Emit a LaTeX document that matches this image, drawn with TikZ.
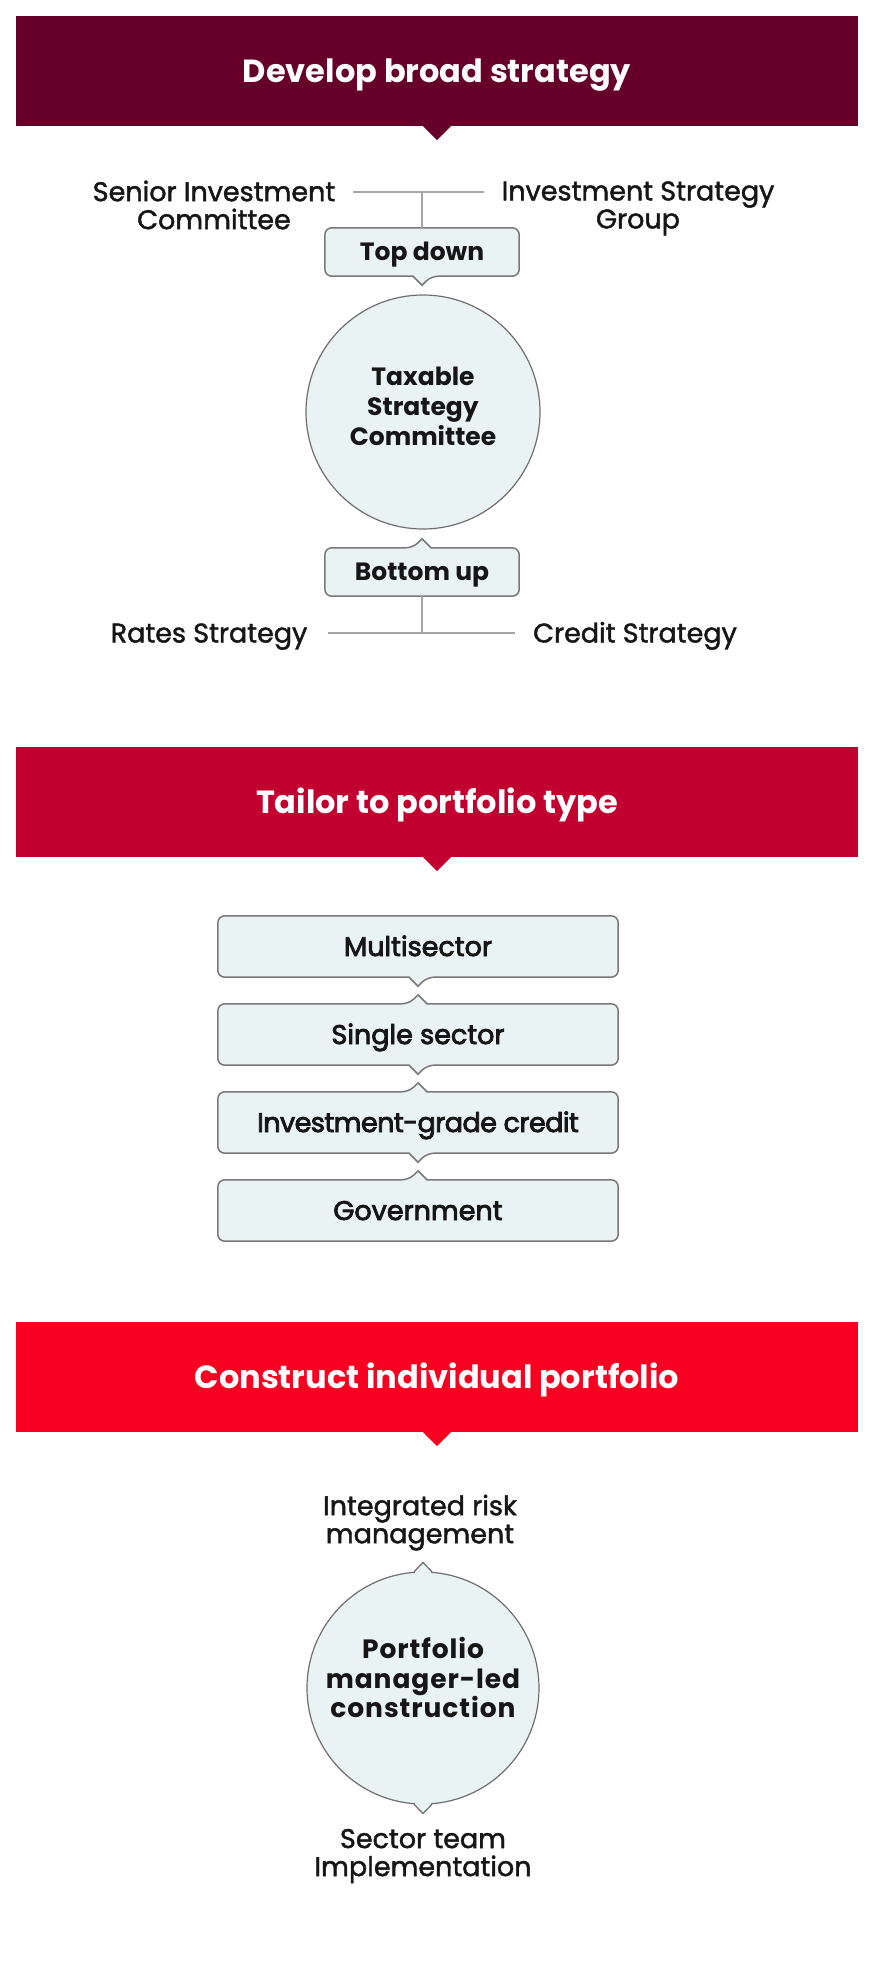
\documentclass[tikz,border=0pt]{standalone}
\usepackage{fontspec}
\setmainfont{Poppins}
\newfontfamily\medfont{Poppins}[FakeBold=1.6]
\newfontfamily\semifont{Poppins}[FakeBold=3]
\newfontfamily\widefont{Poppins}[LetterSpace=3.5]
\usetikzlibrary{backgrounds}
\definecolor{barA}{HTML}{660029}
\definecolor{barB}{HTML}{C2002F}
\definecolor{barC}{HTML}{F70021}
\definecolor{boxfill}{HTML}{E9F3F4}
\definecolor{boxline}{HTML}{787878}
\definecolor{circline}{HTML}{6E6E6E}
\definecolor{connline}{HTML}{A6A6A6}
\definecolor{ink}{HTML}{161616}
\begin{document}
\begin{tikzpicture}[x=1pt,y=-1pt,
  hdr/.style={fill=#1, draw=none, minimum width=842pt, minimum height=110pt, inner sep=0pt, text=white, font=\bfseries\fontsize{32}{38}\selectfont, text height=22.5pt, text depth=0pt},
  lbl/.style={text=ink, font=\medfont\fontsize{27}{28}\selectfont, align=center, inner sep=0pt},
  lblone/.style={text=ink, font=\medfont\fontsize{27}{28}\selectfont, inner sep=0pt, text height=19pt, text depth=0pt},
  tagbox/.style={text=ink, font=\bfseries\fontsize{25}{30}\selectfont, inner sep=0pt, minimum width=194pt, minimum height=48pt, text height=17.5pt, text depth=0pt},
  typebox/.style={text=ink, font=\semifont\fontsize{27}{30}\selectfont, inner sep=0pt, minimum width=400pt, minimum height=61pt, text height=19pt, text depth=0pt},
  circ/.style={circle, draw=circline, fill=boxfill, line width=1.2pt, minimum size=#1, inner sep=0pt},
  circtext/.style={text=ink, font=\bfseries\fontsize{25}{30}\selectfont, align=center, inner sep=0pt},
  outline/.style={draw=boxline, fill=boxfill, line width=1.5pt},
  conn/.style={draw=connline, line width=1.6pt}
]
\useasboundingbox (0,0) rectangle (878,1964);

% ---------- headers ----------
\node[hdr=barA] (h1) at (437,71) {Develop broad strategy};
\fill[barA] ([xshift=-14pt]h1.south) -- ([yshift=-14pt]h1.south) -- ([xshift=14pt]h1.south) -- cycle;
\node[hdr=barB] (h2) at (437,802) {Tailor to portfolio type};
\fill[barB] ([xshift=-14pt]h2.south) -- ([yshift=-14pt]h2.south) -- ([xshift=14pt]h2.south) -- cycle;
\node[hdr=barC] (h3) at (437,1377) {Construct individual portfolio};
\fill[barC] ([xshift=-14pt]h3.south) -- ([yshift=-14pt]h3.south) -- ([xshift=14pt]h3.south) -- cycle;

% ---------- section 1 ----------
\node[lbl] (sic) at (214,205) {Senior Investment\\Committee};
\node[lbl] (isg) at (638,208.4) {Investment Strategy\\Group};
\coordinate (tl) at (353,192);
\coordinate (tr) at (484,192);
\coordinate (tj) at (422,192);
\node[tagbox] (td) at (422,252) {Top down};
\node[circ=234pt] (tsc) at (423,412) {};
\node[circtext] (tsct) at (423,406) {Taxable\\Strategy\\Committee};
\node[tagbox] (bu) at (422,572) {Bottom up};
\coordinate (bl) at (328,633);
\coordinate (br) at (515,633);
\coordinate (bj) at (422,633);
\node[lblone] (rs) at (209,633) {Rates Strategy};
\node[lblone] (cs) at (635,633) {Credit Strategy};
\draw[conn] (tl) -- (tr);
\draw[conn] (tj) -- (td.north);
\draw[conn] (bl) -- (br);
\draw[conn] (bu.south) -- (bj);

% ---------- section 2 ----------
\node[typebox] (ms) at (418,946.5) {Multisector};
\node[typebox] (ss) at (418,1034.5) {Single sector};
\node[typebox] (ig) at (418,1122.5) {\addfontfeatures{LetterSpace=-2}Investment-grade credit};
\node[typebox] (gv) at (418,1210.5) {Government};

% ---------- section 3 ----------
\node[lbl] (irm) at (420,1522.6) {Integrated risk\\management};
\node[circ=232pt] (pmc) at (423,1688) {};
\fill[boxfill] ([xshift=-8pt,yshift=-2pt]pmc.north) -- ([xshift=-8pt]pmc.north) -- ([yshift=9pt]pmc.north) -- ([xshift=8pt]pmc.north) -- ([xshift=8pt,yshift=-2pt]pmc.north) -- cycle;
\draw[draw=circline, line width=1.2pt] ([xshift=-9pt,yshift=-0.4pt]pmc.north) -- ([yshift=9pt]pmc.north) -- ([xshift=9pt,yshift=-0.4pt]pmc.north);
\fill[boxfill] ([xshift=-8pt,yshift=2pt]pmc.south) -- ([xshift=-8pt]pmc.south) -- ([yshift=-9pt]pmc.south) -- ([xshift=8pt]pmc.south) -- ([xshift=8pt,yshift=2pt]pmc.south) -- cycle;
\draw[draw=circline, line width=1.2pt] ([xshift=-9pt,yshift=0.4pt]pmc.south) -- ([yshift=-9pt]pmc.south) -- ([xshift=9pt,yshift=0.4pt]pmc.south);
\node[circtext, font=\widefont\bfseries\fontsize{26.5}{29.5}\selectfont] (pmct) at (423,1677.5) {Portfolio\\manager-led\\construction};
\node[lbl] (sti) at (423,1856) {Sector team\\Implementation};

% ---------- box outlines (behind text) ----------
\begin{scope}[on background layer]
\fill[white] (0,0) rectangle (878,1964);
% Top down: notch down
\draw[outline] ([xshift=-9pt]td.south) [rounded corners=7pt] -- (td.south west) -- (td.north west) -- (td.north east) -- (td.south east) -- ([xshift=9pt]td.south) [sharp corners] -- ([yshift=-9pt]td.south) -- cycle;
% Bottom up: notch up
\draw[outline] ([xshift=9pt]bu.north) [rounded corners=7pt] -- (bu.north east) -- (bu.south east) -- (bu.south west) -- (bu.north west) -- ([xshift=-9pt]bu.north) [sharp corners] -- ([yshift=9pt]bu.north) -- cycle;
% Multisector: notch down
\draw[outline] ([xshift=-9pt]ms.south) [rounded corners=7pt] -- (ms.south west) -- (ms.north west) -- (ms.north east) -- (ms.south east) -- ([xshift=9pt]ms.south) [sharp corners] -- ([yshift=-9pt]ms.south) -- cycle;
% Single sector: both
\draw[outline] ([xshift=9pt]ss.north) [rounded corners=7pt] -- (ss.north east) -- (ss.south east) -- ([xshift=9pt]ss.south) [sharp corners] -- ([yshift=-9pt]ss.south) -- ([xshift=-9pt]ss.south) [rounded corners=7pt] -- (ss.south west) -- (ss.north west) -- ([xshift=-9pt]ss.north) [sharp corners] -- ([yshift=9pt]ss.north) -- cycle;
% Investment-grade: both
\draw[outline] ([xshift=9pt]ig.north) [rounded corners=7pt] -- (ig.north east) -- (ig.south east) -- ([xshift=9pt]ig.south) [sharp corners] -- ([yshift=-9pt]ig.south) -- ([xshift=-9pt]ig.south) [rounded corners=7pt] -- (ig.south west) -- (ig.north west) -- ([xshift=-9pt]ig.north) [sharp corners] -- ([yshift=9pt]ig.north) -- cycle;
% Government: notch up
\draw[outline] ([xshift=9pt]gv.north) [rounded corners=7pt] -- (gv.north east) -- (gv.south east) -- (gv.south west) -- (gv.north west) -- ([xshift=-9pt]gv.north) [sharp corners] -- ([yshift=9pt]gv.north) -- cycle;
\end{scope}
\end{tikzpicture}
\end{document}
